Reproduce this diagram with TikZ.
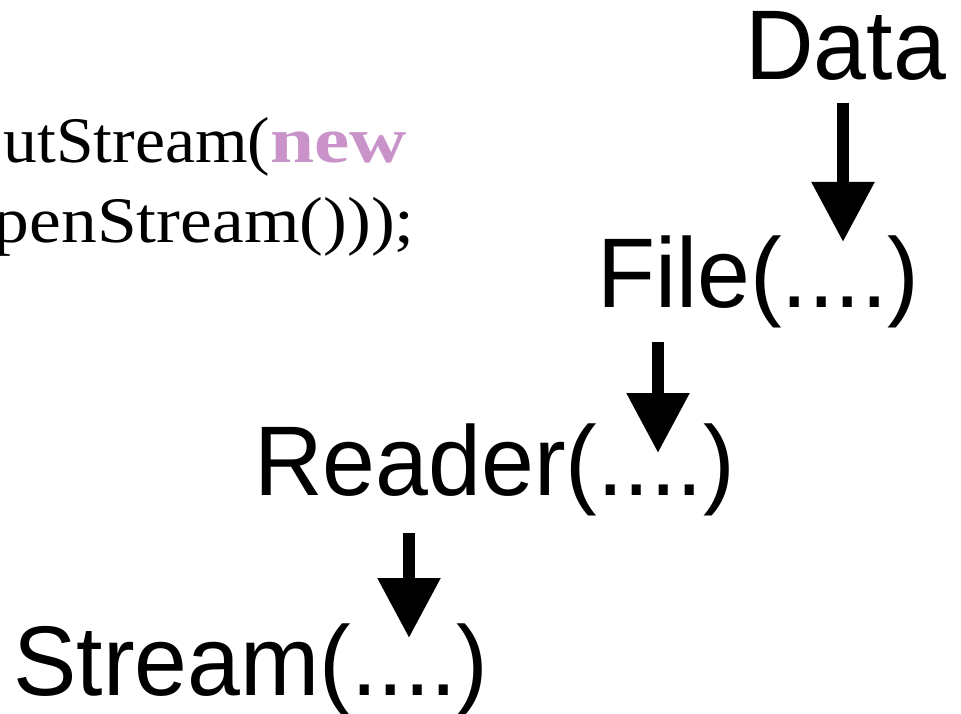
\documentclass[tikz,border=0pt]{standalone}
\usepackage{fontspec}
\usetikzlibrary{arrows.meta}
\newfontfamily\labelsans[FakeStretch=0.96]{Liberation Sans}
\newfontfamily\codeserif[FakeStretch=1.1]{Liberation Serif}
\newfontfamily\codeserifnarrow[FakeStretch=1.04]{Liberation Serif}
\newfontfamily\kwserif[FakeStretch=1.22]{Liberation Serif}
\definecolor{kwpurple}{RGB}{201,146,201}
\tikzset{
  classname/.style={inner sep=0pt, anchor=base west, font=\labelsans\fontsize{99}{110}\selectfont},
  codeline/.style={inner sep=0pt, anchor=base east, font=\codeserif\fontsize{65}{72}\selectfont},
  flow/.style={line width=12pt, -{Triangle[width=60pt,length=60pt]}}
}
\begin{document}
\begin{tikzpicture}[x=1pt, y=-1pt]
  \useasboundingbox (0,0) rectangle (961,714);

  % code fragment
  \node[codeline] (code1) at (407,163) {{\codeserifnarrow utStream(}{\kwserif\bfseries\color{kwpurple}new}};
  \node[codeline] (code2) at (415,242) {penStream()));};

  % wrapping chain
  \node[classname] (data)   at (745,80)  {Data};
  \node[classname] (file)   at (597,307) {File(....)};
  \node[classname] (reader) at (254,495) {Reader(....)};
  \node[classname] (stream) at (13,695)  {Stream(....)};

  \coordinate (a1top) at (843,103); \coordinate (a1tip) at (843,242);
  \coordinate (a2top) at (658,342); \coordinate (a2tip) at (658,453);
  \coordinate (a3top) at (409,533); \coordinate (a3tip) at (409,638);

  \draw[flow] (a1top) -- (a1tip);
  \draw[flow] (a2top) -- (a2tip);
  \draw[flow] (a3top) -- (a3tip);
\end{tikzpicture}
\end{document}
